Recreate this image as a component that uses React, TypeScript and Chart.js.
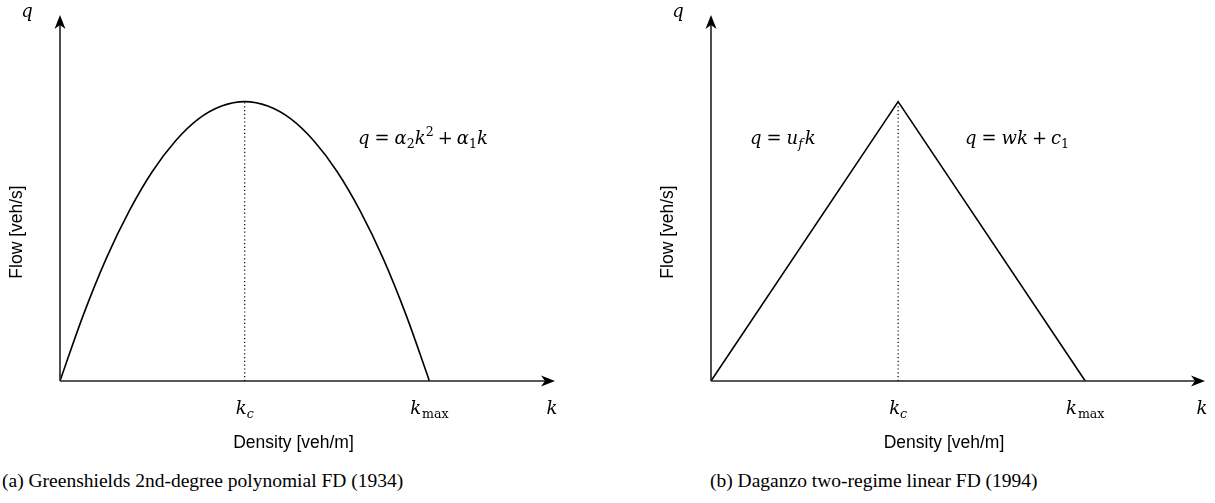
import React, { useEffect, useRef } from "react";
import { Chart, registerables } from "chart.js";

Chart.register(...registerables);

// ---- data ----
const greenK = [0, 0.125, 0.25, 0.375, 0.5, 0.625, 0.75, 0.875, 1, 1.125, 1.25, 1.375, 1.5, 1.625, 1.75, 1.875, 2];
const greenQ = [0, 0.234, 0.438, 0.609, 0.75, 0.859, 0.938, 0.984, 1, 0.984, 0.938, 0.859, 0.75, 0.609, 0.438, 0.234, 0];
const dagK = [0, 1, 2];
const dagQ = [0, 1, 0];
const criticalK = [1, 1];
const criticalQ = [0, 1];
const tickValues = [1, 2];
const tickNames = ["c", "max"];
const xAxisTitle = "Density [veh/m]";
const yAxisTitle = "Flow [veh/s]";
const captions = [
  "(a) Greenshields 2nd-degree polynomial FD (1934)",
  "(b) Daganzo two-regime linear FD (1994)",
];

type Seg = { t: string; it?: boolean; sub?: boolean; sup?: boolean; gap?: number };

const SERIF = '"Liberation Serif", "DejaVu Serif", serif';
const MATH = '"DejaVu Serif", "Liberation Serif", serif';
const SANS = '"Liberation Sans", Arial, sans-serif';

function drawMath(ctx: CanvasRenderingContext2D, segs: Seg[], x: number, y: number, size: number, align: "left" | "center" = "left") {
  const fontFor = (s: Seg) => {
    const sz = s.sub || s.sup ? size * 0.7 : size;
    return `${s.it ? "italic " : ""}${sz}px ${MATH}`;
  };
  let total = 0;
  for (const s of segs) {
    ctx.font = fontFor(s);
    total += ctx.measureText(s.t).width + (s.gap || 0);
  }
  let cx = align === "center" ? x - total / 2 : x;
  ctx.save();
  ctx.fillStyle = "#000";
  ctx.textAlign = "left";
  ctx.textBaseline = "alphabetic";
  for (const s of segs) {
    ctx.font = fontFor(s);
    const dy = s.sub ? size * 0.22 : s.sup ? -size * 0.42 : 0;
    ctx.fillText(s.t, cx, y + dy);
    cx += ctx.measureText(s.t).width + (s.gap || 0);
  }
  ctx.restore();
}

function arrowHead(ctx: CanvasRenderingContext2D, x: number, y: number, dir: "up" | "right") {
  const L = 14, W = 5.5, N = 4;
  ctx.save();
  ctx.translate(x, y);
  if (dir === "up") ctx.rotate(-Math.PI / 2);
  ctx.beginPath();
  ctx.moveTo(0, 0);
  ctx.lineTo(-L, -W);
  ctx.lineTo(-L + N, 0);
  ctx.lineTo(-L, W);
  ctx.closePath();
  ctx.fillStyle = "#000";
  ctx.fill();
  ctx.restore();
}

function makeOverlay(formulas: { segs: Seg[]; x: number; y: number }[]) {
  return {
    id: "overlay",
    afterDatasetsDraw(chart: any) {
      const ctx: CanvasRenderingContext2D = chart.ctx;
      const xs = chart.scales.x;
      const ys = chart.scales.y;
      const x0 = xs.getPixelForValue(0);
      const y0 = ys.getPixelForValue(0);
      const xEnd = xs.getPixelForValue(xs.max);
      const yTop = ys.getPixelForValue(ys.max);
      ctx.save();
      ctx.strokeStyle = "#222";
      ctx.lineWidth = 1.6;
      ctx.beginPath();
      ctx.moveTo(x0, y0);
      ctx.lineTo(xEnd - 6, y0);
      ctx.moveTo(x0, y0);
      ctx.lineTo(x0, yTop + 6);
      ctx.stroke();
      ctx.restore();
      arrowHead(ctx, xEnd, y0, "right");
      arrowHead(ctx, x0, yTop, "up");

      // axis symbols
      drawMath(ctx, [{ t: "q", it: true }], x0 - 33, yTop + 2, 18, "center");
      drawMath(ctx, [{ t: "k", it: true }], xEnd - 3, y0 + 33, 18, "center");

      // tick labels
      tickValues.forEach((v, i) => {
        const px = xs.getPixelForValue(v);
        const name = tickNames[i];
        drawMath(
          ctx,
          [{ t: "k", it: true, gap: name.length === 1 ? 0 : 1 }, { t: name, it: name.length === 1, sub: true }],
          px,
          y0 + 33,
          18,
          "center"
        );
      });

      // axis titles
      ctx.save();
      ctx.fillStyle = "#000";
      ctx.font = `17.5px ${SANS}`;
      ctx.textAlign = "center";
      ctx.textBaseline = "middle";
      ctx.fillText(xAxisTitle, (x0 + xEnd) / 2 - 14, y0 + 62);
      ctx.translate(x0 - 43, (y0 + yTop) / 2 + 34);
      ctx.rotate(-Math.PI / 2);
      ctx.fillText(yAxisTitle, 0, 0);
      ctx.restore();

      formulas.forEach((f) => drawMath(ctx, f.segs, f.x, f.y, 18));
    },
  };
}

function FDChart(props: {
  k: number[];
  q: number[];
  smooth: boolean;
  xMax: number;
  yMax: number;
  padding: { left: number; right: number; top: number; bottom: number };
  formulas: { segs: Seg[]; x: number; y: number }[];
  width: number;
  height: number;
  left: number;
}) {
  const ref = useRef<HTMLCanvasElement>(null);
  useEffect(() => {
    if (!ref.current) return;
    const chart = new Chart(ref.current, {
      type: "scatter",
      data: {
        datasets: [
          {
            data: props.k.map((k, i) => ({ x: k, y: props.q[i] })),
            showLine: true,
            borderColor: "#000",
            borderWidth: 1.6,
            pointRadius: 0,
            tension: props.smooth ? 0.35 : 0,
          },
          {
            data: criticalK.map((k, i) => ({ x: k, y: criticalQ[i] })),
            showLine: true,
            borderColor: "#000",
            borderWidth: 1.2,
            borderDash: [1.2, 2.6],
            pointRadius: 0,
          },
        ],
      },
      options: {
        animation: false,
        responsive: false,
        maintainAspectRatio: false,
        layout: { padding: props.padding },
        plugins: { legend: { display: false }, tooltip: { enabled: false } },
        scales: {
          x: { type: "linear", min: 0, max: props.xMax, display: false },
          y: { type: "linear", min: 0, max: props.yMax, display: false },
        },
      },
      plugins: [makeOverlay(props.formulas)],
    } as any);
    return () => chart.destroy();
  }, []);
  return (
    <canvas
      ref={ref}
      width={props.width}
      height={props.height}
      style={{ position: "absolute", left: props.left, top: 0, width: props.width, height: props.height }}
    />
  );
}

export default function App() {
  const captionStyle: React.CSSProperties = {
    position: "absolute",
    top: 470,
    fontFamily: SERIF,
    fontSize: 19.5,
    color: "#000",
    whiteSpace: "nowrap",
  };
  return (
    <div style={{ position: "absolute", left: 0, top: 0, width: 1215, height: 503, background: "#fff", overflow: "hidden" }}>
      <FDChart
        k={greenK}
        q={greenQ}
        smooth={true}
        xMax={2.68}
        yMax={1.31}
        padding={{ left: 60, right: 52, top: 15, bottom: 79 }}
        width={607}
        height={460}
        left={0}
        formulas={[
          {
            x: 358,
            y: 144,
            segs: [
              { t: "q", it: true, gap: 5 },
              { t: "=", gap: 5 },
              { t: "α", it: true },
              { t: "2", sub: true },
              { t: "k", it: true },
              { t: "2", sup: true, gap: 4 },
              { t: "+", gap: 4 },
              { t: "α", it: true },
              { t: "1", sub: true },
              { t: "k", it: true },
            ],
          },
        ]}
      />
      <FDChart
        k={dagK}
        q={dagQ}
        smooth={false}
        xMax={2.64}
        yMax={1.31}
        padding={{ left: 104, right: 10, top: 15, bottom: 79 }}
        width={608}
        height={460}
        left={607}
        formulas={[
          {
            x: 143,
            y: 144,
            segs: [
              { t: "q", it: true, gap: 5 },
              { t: "=", gap: 5 },
              { t: "u", it: true },
              { t: "f", it: true, sub: true, gap: 2 },
              { t: "k", it: true },
            ],
          },
          {
            x: 358,
            y: 144,
            segs: [
              { t: "q", it: true, gap: 5 },
              { t: "=", gap: 5 },
              { t: "wk", it: true, gap: 4 },
              { t: "+", gap: 4 },
              { t: "c", it: true },
              { t: "1", sub: true },
            ],
          },
        ]}
      />
      <div style={{ ...captionStyle, left: 2 }}>{captions[0]}</div>
      <div style={{ ...captionStyle, left: 710 }}>{captions[1]}</div>
    </div>
  );
}
